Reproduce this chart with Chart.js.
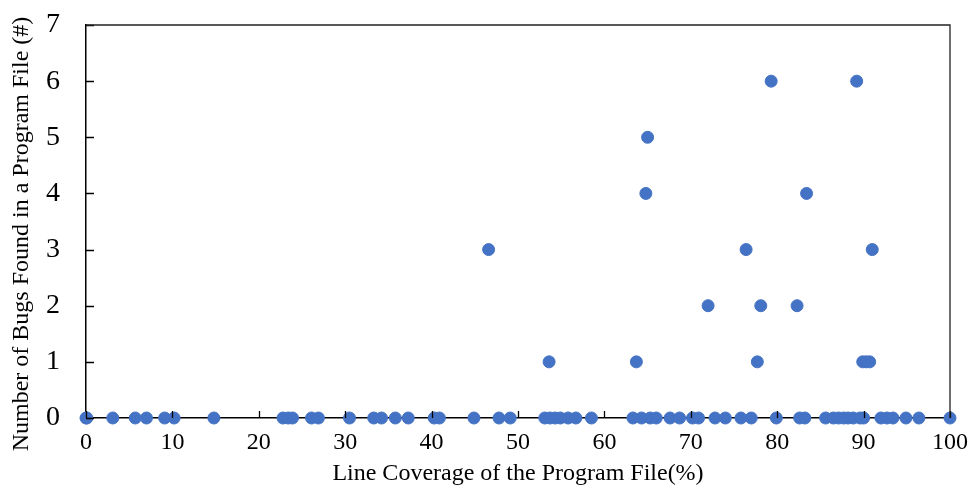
<!DOCTYPE html>
<html>
<head>
<meta charset="utf-8">
<script src="https://cdn.jsdelivr.net/npm/chart.js@4.4.0/dist/chart.umd.min.js"></script>
<style>
  html, body { margin: 0; padding: 0; background: #fff; }
  #wrap { width: 971px; height: 493px; }
</style>
</head>
<body>
<div id="wrap"><canvas id="myChart" width="971" height="493"></canvas></div>
<script>
// coverage (%) of each program file
var coverage = [
  0, 0.1, 3.1, 5.7, 7.0, 9.1, 10.2, 14.8, 22.8, 23.4, 23.9, 26.1, 26.9, 30.5,
  33.3, 34.2, 35.8, 37.3, 40.3, 40.9, 44.9, 47.8, 49.1, 53.1, 53.7, 54.3, 54.9,
  55.8, 56.7, 58.5, 63.3, 64.3, 65.3, 66.0, 67.6, 68.7, 70.2, 70.9, 72.8, 74.0,
  75.8, 77.0, 79.9, 82.6, 83.2, 85.6, 86.5, 87.1, 87.7, 88.2, 88.8, 89.6, 90.0,
  92.0, 92.7, 93.4, 94.9, 96.4, 100,
  46.6, 53.6, 63.7, 64.8, 65.0, 72.0, 76.4, 77.7, 78.1, 79.3, 82.3, 83.4,
  89.2, 91.0, 89.9, 90.3, 90.7
];
// bugs found in each program file
var bugs = [
  0, 0, 0, 0, 0, 0, 0, 0, 0, 0, 0, 0, 0, 0,
  0, 0, 0, 0, 0, 0, 0, 0, 0, 0, 0, 0, 0,
  0, 0, 0, 0, 0, 0, 0, 0, 0, 0, 0, 0, 0,
  0, 0, 0, 0, 0, 0, 0, 0, 0, 0, 0, 0, 0,
  0, 0, 0, 0, 0, 0,
  3, 1, 1, 4, 5, 2, 3, 1, 2, 6, 2, 4,
  6, 3, 1, 1, 1
];
var xTicks = [0, 10, 20, 30, 40, 50, 60, 70, 80, 90, 100];
var yTicks = [0, 1, 2, 3, 4, 5, 6, 7];
var yTitle = 'Number of Bugs Found in a Program File (#)';

var pts = [];
for (var i = 0; i < coverage.length; i++) {
  pts.push({ x: coverage[i], y: bugs[i] });
}

// inner tick marks + top/right frame + y title (sits a bit low, like the original)
var innerTicks = {
  id: 'innerTicks',
  afterDatasetsDraw: function (chart) {
    var c = chart.ctx, a = chart.chartArea;
    var xs = chart.scales.x, ys = chart.scales.y;
    c.save();
    c.strokeStyle = '#000';
    c.lineWidth = 1.3;
    c.beginPath();
    xTicks.forEach(function (v) {
      var px = Math.round(xs.getPixelForValue(v)) + 0.5;
      c.moveTo(px, a.bottom);
      c.lineTo(px, a.bottom - 7);
    });
    yTicks.forEach(function (v) {
      var py = Math.round(ys.getPixelForValue(v)) + 0.5;
      c.moveTo(a.left, py);
      c.lineTo(a.left + 8, py);
    });
    c.stroke();
    c.beginPath();
    c.strokeStyle = '#222';
    c.moveTo(a.left, a.top);
    c.lineTo(a.right, a.top);
    c.lineTo(a.right, a.bottom);
    c.stroke();

    c.translate(22, 234);
    c.rotate(-Math.PI / 2);
    c.fillStyle = '#000';
    c.font = '24px "Liberation Serif"';
    c.textAlign = 'center';
    c.textBaseline = 'middle';
    c.fillText(yTitle, 0, 0);
    c.restore();
  }
};

var ctx = document.getElementById('myChart').getContext('2d');
var chart = new Chart(ctx, {
  type: 'scatter',
  data: {
    datasets: [{
      data: pts,
      backgroundColor: '#4472C4',
      borderColor: '#4472C4',
      pointRadius: 6,
      pointHoverRadius: 6,
      clip: false
    }]
  },
  options: {
    responsive: false,
    animation: false,
    events: [],
    layout: { padding: { top: 25, right: 21, left: 0, bottom: 0 } },
    plugins: { legend: { display: false }, tooltip: { enabled: false } },
    scales: {
      x: {
        type: 'linear',
        min: 0, max: 100,
        afterBuildTicks: function (s) { s.ticks = xTicks.map(function (v) { return { value: v }; }); },
        afterFit: function (s) { s.height = 75; s.paddingLeft = 0; s.paddingRight = 0; },
        grid: { display: false },
        border: { display: true, color: '#000', width: 1.5 },
        ticks: { color: '#000', padding: 2, maxRotation: 0, font: { family: 'Liberation Serif', size: 24 } },
        title: {
          display: true,
          text: 'Line Coverage of the Program File(%)',
          color: '#000',
          padding: { top: 0, bottom: 5 },
          font: { family: 'Liberation Serif', size: 24 }
        }
      },
      y: {
        type: 'linear',
        min: 0, max: 7,
        afterBuildTicks: function (s) { s.ticks = yTicks.map(function (v) { return { value: v }; }); },
        afterFit: function (s) { s.width = 86; s.paddingTop = 0; s.paddingBottom = 0; },
        grid: { display: false },
        border: { display: true, color: '#000', width: 1.5 },
        ticks: { color: '#000', padding: 18, font: { family: 'Liberation Serif', size: 28 } }
      }
    }
  },
  plugins: [innerTicks]
});
</script>
</body>
</html>
